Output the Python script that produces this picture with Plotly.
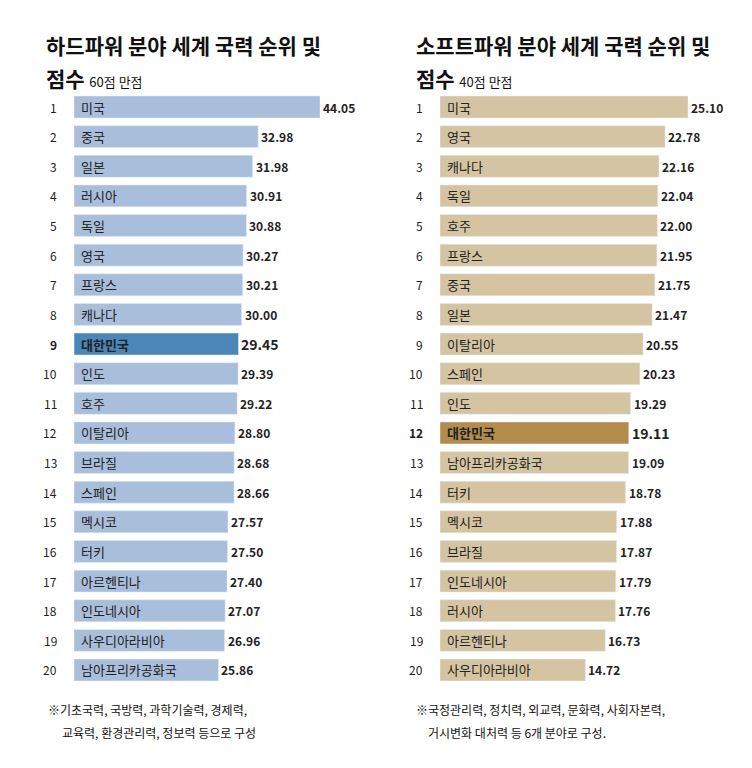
import plotly.graph_objects as go

hard_names = ["미국","중국","일본","러시아","독일","영국","프랑스","캐나다","대한민국","인도","호주","이탈리아","브라질","스페인","멕시코","터키","아르헨티나","인도네시아","사우디아라비아","남아프리카공화국"]
hard_vals = [44.05,32.98,31.98,30.91,30.88,30.27,30.21,30.00,29.45,29.39,29.22,28.80,28.68,28.66,27.57,27.50,27.40,27.07,26.96,25.86]
soft_names = ["미국","영국","캐나다","독일","호주","프랑스","중국","일본","이탈리아","스페인","인도","대한민국","남아프리카공화국","터키","멕시코","브라질","인도네시아","러시아","아르헨티나","사우디아라비아"]
soft_vals = [25.10,22.78,22.16,22.04,22.00,21.95,21.75,21.47,20.55,20.23,19.29,19.11,19.09,18.78,17.88,17.87,17.79,17.76,16.73,14.72]
ranks = list(range(1, 21))

FONT = "Noto Sans CJK KR"
W, H = 752, 768
ytop, ybot = 84.2, 676.8
ydom = [(H - ybot) / H, (H - ytop) / H]

fig = go.Figure()
anns = []
panels = [
    ("x", "y", hard_names, hard_vals, "#a9bedb", "#4a86b8", [66, 312], 44.05),
    ("x2", "y2", soft_names, soft_vals, "#d5c4a1", "#b38c4e", [432, 680], 25.10),
]
for xa, ya, names, vals, c, hc, px, vmax in panels:
    colors = [hc if n == "대한민국" else c for n in names]
    fig.add_trace(go.Bar(x=vals, y=ranks, orientation="h", marker_color=colors,
                         width=0.74, xaxis=xa, yaxis=ya, hoverinfo="skip"))
    for r, n, v in zip(ranks, names, vals):
        bold = n == "대한민국"
        anns.append(dict(x=0, y=r, xref=xa, yref=ya, text=f"<b>{n}</b>" if bold else n,
                         xanchor="left", xshift=5, showarrow=False,
                         font=dict(family=FONT, size=13, color="#222")))
        anns.append(dict(x=v, y=r, xref=xa, yref=ya, text=f"<b>{v:.2f}</b>",
                         xanchor="left", xshift=1, showarrow=False,
                         font=dict(family=FONT, size=14 if bold else 12, color="#222")))
        anns.append(dict(x=(px[0] - 15) / W, y=r, xref="paper", yref=ya,
                         text=f"<b>{r}</b>" if bold else str(r),
                         xanchor="right", showarrow=False,
                         font=dict(family=FONT, size=12, color="#222")))

def t(x, y, text, size, xanchor="left"):
    anns.append(dict(x=x / W, y=1 - y / H, xref="paper", yref="paper", text=text,
                     xanchor=xanchor, yanchor="middle", showarrow=False, align="left",
                     font=dict(family=FONT, size=size, color="#111")))

t(36, 37, "<b>하드파워 분야 세계 국력 순위 및</b>", 21)
t(36, 70, "<b>점수</b> <span style='font-size:13px'>60점 만점</span>", 21)
t(406, 37, "<b>소프트파워 분야 세계 국력 순위 및</b>", 21)
t(406, 70, "<b>점수</b> <span style='font-size:13px'>40점 만점</span>", 21)
t(38, 701, "※기초국력, 국방력, 과학기술력, 경제력,", 12)
t(52, 724, "교육력, 환경관리력, 정보력 등으로 구성", 12)
t(406, 701, "※국정관리력, 정치력, 외교력, 문화력, 사회자본력,", 12)
t(418, 724, "거시변화 대처력 등 6개 분야로 구성.", 12)

ax = dict(showgrid=False, showticklabels=False, zeroline=False, showline=False, fixedrange=True)
fig.update_layout(
    width=W, height=H, margin=dict(l=0, r=0, t=0, b=0),
    paper_bgcolor="white", plot_bgcolor="white", showlegend=False,
    xaxis=dict(domain=[66 / W, 312 / W], range=[0, 44.05], **ax),
    xaxis2=dict(domain=[432 / W, 680 / W], range=[0, 25.10], **ax),
    yaxis=dict(domain=ydom, range=[20.5, 0.5], anchor="x", **ax),
    yaxis2=dict(domain=ydom, range=[20.5, 0.5], anchor="x2", **ax),
    annotations=anns,
)
fig.write_html("out.html")
